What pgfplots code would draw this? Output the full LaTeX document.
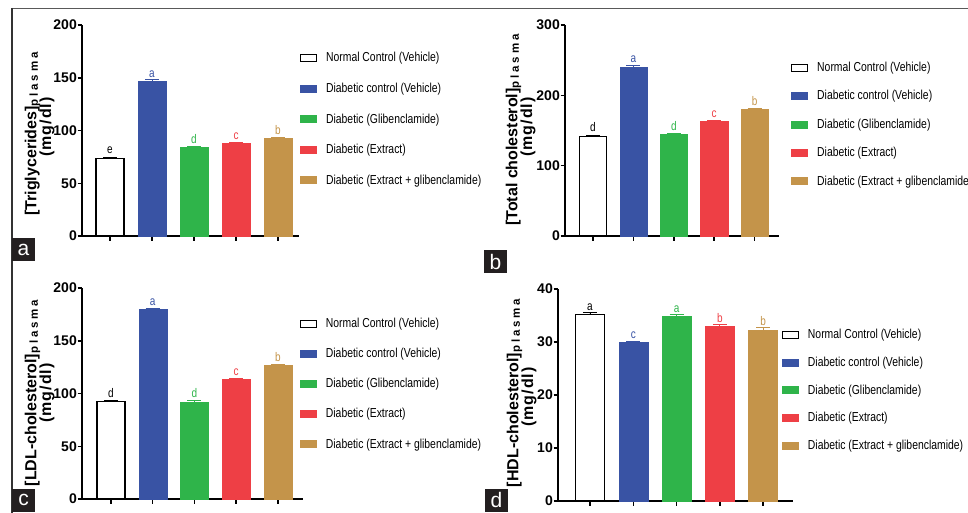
\documentclass[border=0pt]{standalone}
\usepackage{pgfplots}
\pgfplotsset{compat=1.18}
\usepackage{fontspec}
\setmainfont{Liberation Sans}
\newfontfamily\narrowfont[FakeStretch=0.8]{Liberation Sans}
\definecolor{cblue}{HTML}{3953A4}
\definecolor{cgreen}{HTML}{2FB44A}
\definecolor{cred}{HTML}{EE3F45}
\definecolor{ctan}{HTML}{C4944A}
\definecolor{boxc}{HTML}{231F20}
\pgfplotsset{
  panel/.style={scale only axis, anchor=south west, ybar, bar width=0.67, bar shift=0pt,
    ymin=0, xtick={0,1,2,3,4}, xticklabels={},
    axis x line*=bottom, axis y line*=left, axis line style={line width=2pt,-},
    tick align=outside, major tick length=4.5pt, tick style={line width=1.5pt,black},
    yticklabel style={font=\bfseries\fontsize{14}{14}\selectfont, inner sep=0.5pt},
    /pgf/number format/assume math mode=true, clip=false,
    legend cell align=left,
    legend image code/.code={\draw[##1, line width=0.8pt] (0pt,-3.5pt) rectangle (16pt,3.5pt);},
    legend style={draw=none, fill=none, inner sep=0pt, anchor=north west,
      nodes={inner sep=0pt}, column sep=9pt, font=\narrowfont\fontsize{13}{15}\selectfont}},
  eb/.style={error bars/y dir=plus, error bars/y explicit,
    error bars/error bar style={line width=0.9pt, color=#1},
    error bars/error mark options={line width=0.9pt, mark size=7pt, rotate=90, color=#1}},
  lab/.style 2 args={nodes near coords={#1},
    every node near coord/.append style={font=\narrowfont\fontsize{12.5}{12.5}\selectfont, inner sep=1pt, yshift=2.5pt, text=#2}},
  nc/.style={fill=white, draw=black, line width=1.2pt, eb=black},
  dc/.style={fill=cblue, draw=cblue, eb=cblue},
  dg/.style={fill=cgreen, draw=cgreen, eb=cgreen},
  de/.style={fill=cred, draw=cred, eb=cred},
  dx/.style={fill=ctan, draw=ctan, eb=ctan},
}
\newcommand{\leg}{\legend{Normal Control (Vehicle),Diabetic control (Vehicle),Diabetic (Glibenclamide),Diabetic (Extract),Diabetic (Extract + glibenclamide)}}
\newcommand{\sub}{\raisebox{-1.5pt}{\fontsize{11.5}{11.5}\selectfont\addfontfeature{LetterSpace=25}plasma}}
\newcommand{\mgdl}{{\addfontfeature{LetterSpace=6}(mg/dl)}}
\begin{document}
\begin{tikzpicture}
\useasboundingbox (0pt,0pt) rectangle (968pt,-513pt);
\clip (0pt,0pt) rectangle (968pt,-513pt);
% frame
\draw[color=black!65, line width=1.5pt] (12pt,-8.5pt) -- (968pt,-8.5pt);
\draw[color=black!80, line width=1.2pt] (12pt,-8pt) -- (12pt,-513pt);

% panel a
\begin{axis}[panel, at={(82pt,-236pt)}, width=217pt, height=211pt,
  xmin=-0.667, xmax=4.5, ymax=200, ytick={0,50,100,150,200},
  legend style={at={(axis description cs:1.005,0.871)}, row sep=19.7pt}]
\addplot[nc, lab={e}{black}] coordinates {(0,73.8) +- (0,1.0)};
\addplot[dc, lab={a}{cblue}] coordinates {(1,147) +- (0,1.0)};
\addplot[dg, lab={d}{cgreen}] coordinates {(2,83.7) +- (0,0.8)};
\addplot[de, lab={c}{cred}] coordinates {(3,88.3) +- (0,0.7)};
\addplot[dx, lab={b}{ctan}] coordinates {(4,93) +- (0,0.7)};
\leg
\end{axis}

% panel b
\begin{axis}[panel, at={(565pt,-236pt)}, width=213.8pt, height=211pt,
  xmin=-0.693, xmax=4.6, ymax=300, ytick={0,100,200,300},
  legend style={at={(axis description cs:1.058,0.825)}, row sep=17.5pt}]
\addplot[nc, lab={d}{black}] coordinates {(0,142) +- (0,1.5)};
\addplot[dc, lab={a}{cblue}] coordinates {(1,240.7) +- (0,1.5)};
\addplot[dg, lab={d}{cgreen}] coordinates {(2,145) +- (0,1.2)};
\addplot[de, lab={c}{cred}] coordinates {(3,163.5) +- (0,1.0)};
\addplot[dx, lab={b}{ctan}] coordinates {(4,180) +- (0,1.0)};
\leg
\end{axis}

% panel c
\begin{axis}[panel, at={(82pt,-499pt)}, width=221pt, height=211pt,
  xmin=-0.694, xmax=4.6, ymax=200, ytick={0,50,100,150,200},
  legend style={at={(axis description cs:0.986,0.858)}, row sep=19.2pt}]
\addplot[nc, lab={d}{black}] coordinates {(0,92.2) +- (0,1.0)};
\addplot[dc, lab={a}{cblue}] coordinates {(1,179.8) +- (0,1.0)};
\addplot[dg, lab={d}{cgreen}] coordinates {(2,92.2) +- (0,0.8)};
\addplot[de, lab={c}{cred}] coordinates {(3,113.5) +- (0,0.8)};
\addplot[dx, lab={b}{ctan}] coordinates {(4,127) +- (0,0.8)};
\leg
\end{axis}

% panel d
\begin{axis}[panel, at={(558pt,-501pt)}, width=235pt, height=212pt,
  xmin=-0.739, xmax=4.69, ymax=40, ytick={0,10,20,30,40},
  legend style={at={(axis description cs:0.953,0.811)}, row sep=16.8pt}]
\addplot[nc, lab={a}{black}] coordinates {(0,35.2) +- (0,0.4)};
\addplot[dc, lab={c}{cblue}] coordinates {(1,29.9) +- (0,0.25)};
\addplot[dg, lab={a}{cgreen}] coordinates {(2,34.9) +- (0,0.3)};
\addplot[de, lab={b}{cred}] coordinates {(3,33.0) +- (0,0.35)};
\addplot[dx, lab={b}{ctan}] coordinates {(4,32.3) +- (0,0.4)};
\leg
\end{axis}

% y labels
\begin{scope}[every node/.style={rotate=90, font=\bfseries\fontsize{16}{16}\selectfont, inner sep=0pt}]
\node at (32.5pt,-134pt) {[Triglycerides]\sub};
\node at (47pt,-127pt) {\mgdl};
\node at (513.5pt,-130pt) {[Total cholesterol]\sub};
\node at (528pt,-127pt) {\mgdl};
\node at (32.5pt,-393pt) {[LDL-cholesterol]\sub};
\node at (47pt,-393pt) {\mgdl};
\node at (514.5pt,-393pt) {[HDL-cholesterol]\sub};
\node at (529pt,-397pt) {\mgdl};
\end{scope}

% panel letters
\begin{scope}[every node/.style={fill=boxc, text=white, minimum size=23pt, inner sep=0pt, font=\fontsize{21}{21}\selectfont}]
\node at (23.5pt,-249.5pt) {a};
\node at (495.5pt,-261.5pt) {b};
\node at (23.5pt,-500pt) {c};
\node at (496.5pt,-500pt) {d};
\end{scope}
\end{tikzpicture}
\end{document}
